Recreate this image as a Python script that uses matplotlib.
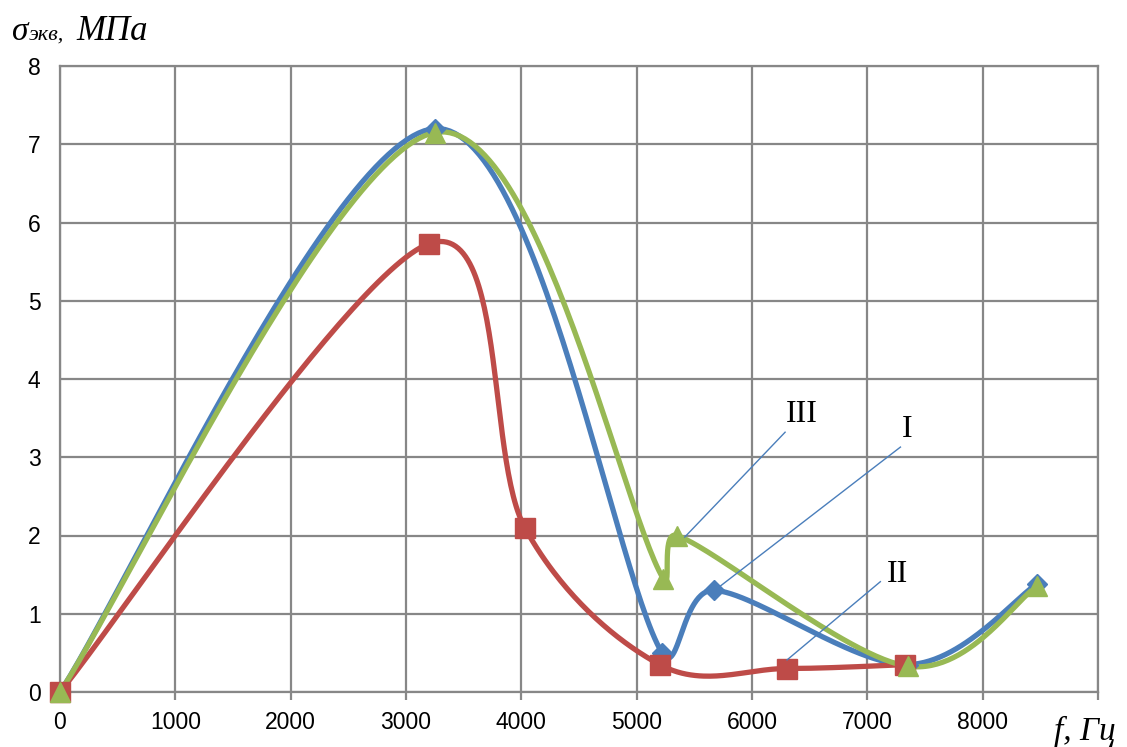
import numpy as np
import matplotlib
matplotlib.use('Agg')
import matplotlib.pyplot as plt

# data
x_I = [0, 3250, 5220, 5670, 7350, 8470]
y_I = [0, 7.2, 0.5, 1.3, 0.35, 1.38]

x_II = [0, 3200, 4030, 5200, 6300, 7330]
y_II = [0, 5.73, 2.1, 0.35, 0.3, 0.35]

x_III = [0, 3250, 5230, 5350, 7350, 8470]
y_III = [0, 7.15, 1.45, 2.0, 0.33, 1.35]

x_ticks = [0, 1000, 2000, 3000, 4000, 5000, 6000, 7000, 8000, 9000]
y_ticks = [0, 1, 2, 3, 4, 5, 6, 7, 8]

blue = '#4a7ebb'
red = '#be4b48'
green = '#98b954'
grid_col = '#878787'

W, H = 1127, 747
ax_l, ax_r, ax_t, ax_b = 60, 1098, 66, 692
sx = (ax_r - ax_l) / 9000.0
sy = (ax_b - ax_t) / 8.0


def smooth(xs, ys, n=60, lim=0.4):
    # smoothed line like the spreadsheet one: bezier pieces with control
    # points (next - prev) / 6, clipped on short segments (pixel space)
    P = np.column_stack([np.array(xs, float) * sx, np.array(ys, float) * sy])
    m = len(P)
    c_out = [None] * m
    c_in = [None] * m
    for i in range(m):
        prev = P[i - 1] if i > 0 else P[i]
        nxt = P[i + 1] if i < m - 1 else P[i]
        v = (nxt - prev) / 6.0
        lv = np.linalg.norm(v)
        a = v.copy()
        b = v.copy()
        if i < m - 1:
            d = np.linalg.norm(P[i + 1] - P[i])
            if lv > lim * d:
                a = v * lim * d / lv
        if i > 0:
            d = np.linalg.norm(P[i] - P[i - 1])
            if lv > lim * d:
                b = v * lim * d / lv
        c_out[i] = P[i] + a
        c_in[i] = P[i] - b
    out = []
    for i in range(m - 1):
        p1, p2 = P[i], P[i + 1]
        c1, c2 = c_out[i], c_in[i + 1]
        s = np.linspace(0, 1, n)[:, None]
        seg = (1 - s) ** 3 * p1 + 3 * (1 - s) ** 2 * s * c1 + 3 * (1 - s) * s ** 2 * c2 + s ** 3 * p2
        out.append(seg if i == 0 else seg[1:])
    out = np.vstack(out)
    return out[:, 0] / sx, out[:, 1] / sy


fig = plt.figure(figsize=(W / 100, H / 100), dpi=100)
ax = fig.add_axes([ax_l / W, 1 - ax_b / H, (ax_r - ax_l) / W, (ax_b - ax_t) / H])

ax.set_xlim(0, 9000)
ax.set_ylim(0, 8)
ax.set_xticks(x_ticks)
ax.set_yticks(y_ticks)
ax.set_xticklabels([str(v) for v in x_ticks[:-1]] + [''])
ax.grid(True, color=grid_col, lw=1.6)
for s in ax.spines.values():
    s.set_color(grid_col)
    s.set_linewidth(1.6)
ax.tick_params(axis='x', length=6, width=1.6, color=grid_col, labelsize=16.5, pad=8)
ax.tick_params(axis='y', length=0, labelsize=16.5, pad=14)
for lab in ax.get_xticklabels() + ax.get_yticklabels():
    lab.set_fontfamily('Liberation Sans')

series = [
    (x_I, y_I, blue, 'D', 10.5),
    (x_II, y_II, red, 's', 14),
    (x_III, y_III, green, '^', 15),
]
for xs, ys, c, mk, ms in series:
    sxs, sys_ = smooth(xs, ys)
    ax.plot(sxs, sys_, color=c, lw=3.8, clip_on=False, zorder=3, solid_capstyle='round')
    ax.plot(xs, ys, ls='none', marker=mk, ms=ms, color=c, clip_on=False, zorder=4)

# callout labels
labels = [
    ('III', (6435, 3.54), (6287, 3.32), (5417, 1.98)),
    ('I', (7348, 3.35), (7287, 3.13), (5678, 1.30)),
    ('II', (7261, 1.50), (7113, 1.41), (6304, 0.41)),
]
for txt, tpos, p0, p1 in labels:
    ax.plot([p0[0], p1[0]], [p0[1], p1[1]], color=blue, lw=1.0, zorder=5)
    ax.text(tpos[0], tpos[1], txt, fontsize=23, family='Liberation Serif',
            ha='center', va='center', zorder=6)

# axis titles
fig.text(12 / W, 1 - 40 / H, 'σ', fontsize=24, family='Liberation Serif', style='italic')
fig.text(29 / W, 1 - 40 / H, 'экв,', fontsize=16, family='Liberation Serif', style='italic')
fig.text(76 / W, 1 - 40 / H, 'МПа', fontsize=25, family='Liberation Serif', style='italic')
fig.text(1054 / W, 1 - 740 / H, 'f, Гц', fontsize=24, family='Liberation Serif', style='italic')

fig.savefig('out.png', dpi=100)
